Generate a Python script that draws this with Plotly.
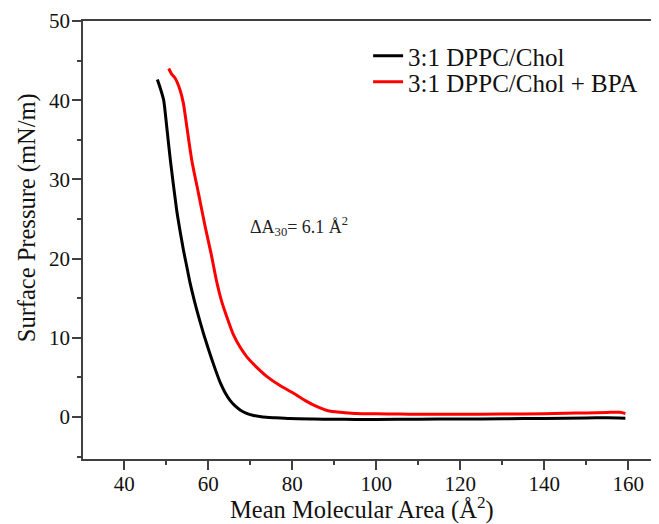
import plotly.graph_objects as go

# Data
area_black = [47.9, 48.6, 49.4, 50.2, 51.0, 52.5, 53.3, 54.1, 54.9, 55.7, 56.7, 57.7, 58.9,
              60.1, 61.5, 62.9, 64.0, 65.2, 66.4, 67.6, 69.0, 70.8, 73.0, 76.0, 79.5,
              85, 90, 95, 100, 110, 120, 130, 140, 150, 155, 159.3]
press_black = [42.6, 41.5, 40.0, 36.3, 32.4, 26.1, 23.5, 21.1, 19.0, 16.9, 14.7, 12.7, 10.5,
               8.5, 6.3, 4.3, 3.1, 2.1, 1.4, 0.9, 0.5, 0.2, 0.0, -0.1, -0.2,
               -0.25, -0.28, -0.3, -0.3, -0.28, -0.25, -0.22, -0.18, -0.12, -0.1, -0.15]

area_red = [50.6, 51.3, 52.1, 53.3, 54.1, 54.9, 56.1, 57.7, 59.3, 60.7, 62.1, 63.2,
            64.4, 66.0, 67.5, 69.2, 71.5, 74.0, 77.0, 80.3, 83.0, 85.9, 88.5, 91.4,
            95, 100, 105.7, 110, 120, 130, 140, 145, 150, 155, 158, 159.3]
press_red = [44.0, 43.3, 42.8, 41.3, 39.6, 36.7, 32.4, 28.2, 24.0, 20.6, 16.9, 14.6,
             12.7, 10.4, 8.9, 7.6, 6.3, 5.1, 4.0, 3.0, 2.1, 1.3, 0.8, 0.6,
             0.45, 0.4, 0.38, 0.35, 0.35, 0.38, 0.42, 0.48, 0.52, 0.58, 0.6, 0.45]

series_names = ["3:1 DPPC/Chol", "3:1 DPPC/Chol + BPA"]
x_ticks = [40, 60, 80, 100, 120, 140, 160]
y_ticks = [0, 10, 20, 30, 40, 50]

FONT = "Liberation Serif, Times New Roman, serif"
AX = "#404040"
TXT = "#111"

fig = go.Figure()
fig.add_trace(go.Scatter(x=area_black, y=press_black, mode="lines", name=series_names[0],
                         legend="legend",
                         line=dict(color="black", width=3, shape="spline", smoothing=0.6)))
fig.add_trace(go.Scatter(x=area_red, y=press_red, mode="lines", name=series_names[1],
                         legend="legend2",
                         line=dict(color="#ff0000", width=3, shape="spline", smoothing=0.6)))

fig.add_annotation(x=69.5, y=24, xref="x", yref="y", xanchor="left", yanchor="middle",
                   text="ΔA<sub>30</sub>= 6.1 Å<sup>2</sup>", showarrow=False,
                   font=dict(family=FONT, size=18, color="#222"))

# axis titles
fig.add_annotation(x=0.485, y=-0.114, xref="paper", yref="paper", xanchor="center",
                   yanchor="middle", showarrow=False,
                   text="Mean Molecular Area (Å<sup>2</sup>)",
                   font=dict(family=FONT, size=24.5, color=TXT))
fig.add_annotation(x=-0.097, y=0.55, xref="paper", yref="paper", xanchor="center",
                   yanchor="middle", showarrow=False, textangle=-90,
                   text="Surface Pressure (mN/m)",
                   font=dict(family=FONT, size=24.5, color=TXT))

legend_common = dict(xanchor="left", yanchor="middle", bgcolor="rgba(0,0,0,0)",
                     itemwidth=30, font=dict(family=FONT, size=25, color=TXT))

fig.update_layout(
    width=651, height=516,
    margin=dict(l=75, r=0, t=13, b=65),
    paper_bgcolor="white", plot_bgcolor="white",
    font=dict(family=FONT, color=TXT),
    showlegend=True,
    legend=dict(x=0.495, y=(459 - 56) / 438, **legend_common),
    legend2=dict(x=0.495, y=(459 - 82) / 438, **legend_common),
    xaxis=dict(range=[30.2, 167.3], tickvals=x_ticks, ticks="outside", ticklen=9,
               tickwidth=1.5, tickcolor=AX, showline=True, linecolor=AX, linewidth=1.5,
               mirror=True, showgrid=False, zeroline=False, ticklabelstandoff=-4,
               tickfont=dict(family=FONT, size=21, color=TXT),
               minor=dict(dtick=10, tick0=30, ticks="outside", ticklen=4, tickwidth=1.5, tickcolor=AX)),
    yaxis=dict(range=[-5.3, 50], tickvals=y_ticks, ticks="outside", ticklen=9,
               tickwidth=1.5, tickcolor=AX, showline=True, linecolor=AX, linewidth=1.5,
               showgrid=False, zeroline=False, ticklabelstandoff=-2,
               tickfont=dict(family=FONT, size=21, color=TXT),
               minor=dict(dtick=5, tick0=-5, ticks="outside", ticklen=4, tickwidth=1.5, tickcolor=AX)),
)

fig.write_html("out.html")
